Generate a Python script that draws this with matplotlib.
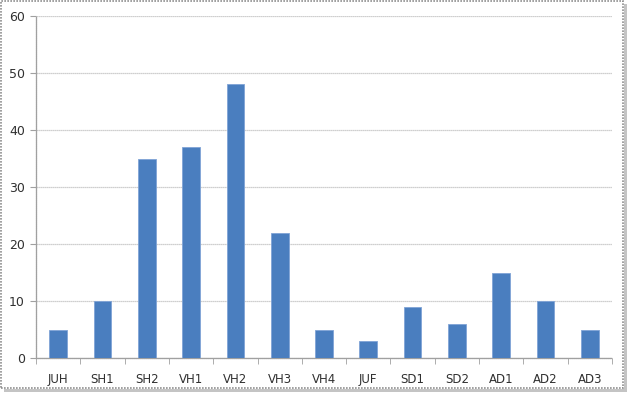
import matplotlib
matplotlib.use("Agg")
import matplotlib.pyplot as plt
from matplotlib.patches import Rectangle
import numpy as np

categories = ["JUH", "SH1", "SH2", "VH1", "VH2", "VH3", "VH4", "JUF", "SD1", "SD2", "AD1", "AD2", "AD3"]
values = [5, 10, 35, 37, 48, 22, 5, 3, 9, 6, 15, 10, 5]
yticks = [0, 10, 20, 30, 40, 50, 60]

W, H = 629, 393
fig = plt.figure(figsize=(W / 100, H / 100), dpi=100)
ax = fig.add_axes([36 / W, 1 - 358 / H, (612 - 36) / W, (358 - 16) / H])

x = np.arange(len(categories))
ax.bar(x, values, width=0.4, color="#4a7ebf", edgecolor="#7fa3d6", linewidth=0.6, zorder=3)

ax.set_xlim(-0.5, len(categories) - 0.5)
ax.set_ylim(0, 60)
ax.set_yticks(yticks)
ax.set_yticklabels([str(t) for t in yticks])
ax.set_xticks(x)
ax.set_xticklabels(categories)
ax.set_xticks(np.arange(-0.5, len(categories), 1.0), minor=True)

ax.grid(axis="y", color="#c0c0c0", linewidth=0.9, linestyle=(0, (1, 0.6)), zorder=0)
for s in ["top", "right"]:
    ax.spines[s].set_visible(False)
for s in ["left", "bottom"]:
    ax.spines[s].set_color("#a0a0a0")
    ax.spines[s].set_linewidth(0.9)
    ax.spines[s].set_linestyle((0, (1, 0.6)))

ax.tick_params(axis="x", which="major", length=0, labelsize=8.5, colors="#303030", pad=11)
ax.tick_params(axis="x", which="minor", length=4, color="#a0a0a0", direction="out", labelbottom=False)
ax.tick_params(axis="y", length=4, color="#a0a0a0", labelsize=9, labelcolor="#303030", pad=4)

# figure border with shadow (pixel coords converted to figure fraction)
def px(x0, y0, w, h):
    return (x0 / W, 1 - (y0 + h) / H), w / W, h / H

xy, w, h = px(1, 1, 622, 387)
fig.patches.append(Rectangle(xy, w, h, transform=fig.transFigure,
                             fill=False, edgecolor="#909090", linewidth=1.2, linestyle=(0, (1, 0.8))))
xy, w, h = px(4, 389, 623, 3)
fig.patches.append(Rectangle(xy, w, h, transform=fig.transFigure, facecolor="#c4c4c4", edgecolor="none"))
xy, w, h = px(624, 4, 3, 388)
fig.patches.append(Rectangle(xy, w, h, transform=fig.transFigure, facecolor="#c4c4c4", edgecolor="none"))

fig.savefig("out.png", dpi=100)
